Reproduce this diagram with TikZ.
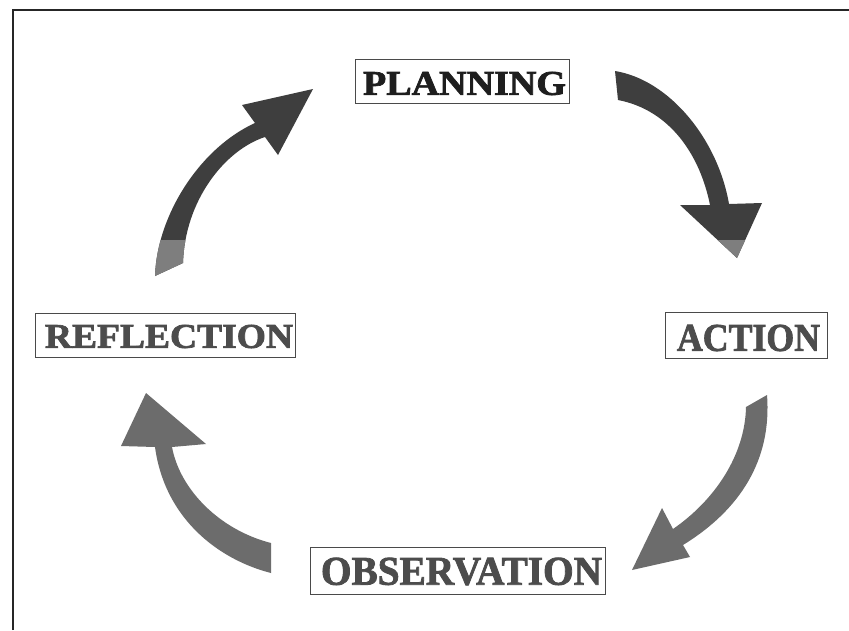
\documentclass[tikz,border=0pt]{standalone}
\usepackage{fontspec}
\usepackage{graphicx}
\setmainfont{Liberation Serif}[BoldFeatures={FakeBold=2}]
\definecolor{arrowdark}{HTML}{3E3E3E}
\definecolor{arrowmid}{HTML}{6C6C6C}
\definecolor{arrowlight}{HTML}{7E7E7E}
\definecolor{boxline}{HTML}{4A4A4A}
\definecolor{txtdark}{HTML}{1E1E1E}
\definecolor{txtmid}{HTML}{4C4C4C}

% arrow outlines (1 unit = 1 pixel, y grows downward)
\newcommand\planactpath{(615,71) .. controls (670,80) and (718,140) .. (729,204)
  -- (762,203) -- (737,258) -- (680,205) -- (710,205)
  .. controls (700,155) and (670,110) .. (618,100) -- cycle}
\newcommand\reflplanpath{(155,276) .. controls (157,215) and (200,148) .. (255,123)
  -- (242,105) -- (313,89) -- (278,155) -- (265,137)
  .. controls (225,150) and (185,200) .. (183,263) -- cycle}

\begin{document}
\begin{tikzpicture}[x=1pt,y=-1pt,
  frameline/.style={draw=black!85, line width=1.6pt},
  stagebox/.style={draw=boxline, line width=0.9pt, inner sep=0pt, fill=white},
  stagetext/.style={inner sep=0pt, font=\bfseries},
  darkarrow/.style={fill=arrowdark},
  midarrow/.style={fill=arrowmid},
  lightpart/.style={fill=arrowlight},
]
\useasboundingbox (0,0) rectangle (849,630);
\fill[white] (0,0) rectangle (849,630);

% frame (top and left edges)
\draw[frameline] (13,630) -- (13,10) -- (849,10);

% stage boxes
\node[stagebox, minimum width=214pt, minimum height=44pt] (plan) at (462,81) {};
\node[stagetext, text=txtdark] (plan-t) at (464.5,83.5) {\resizebox{203pt}{23pt}{PLANNING}};

\node[stagebox, minimum width=162pt, minimum height=46pt] (act) at (746,335) {};
\node[stagetext, text=txtmid] (act-t) at (748.5,338) {\resizebox{143pt}{26pt}{ACTION}};

\node[stagebox, minimum width=295pt, minimum height=47pt] (obs) at (457.5,570.5) {};
\node[stagetext, text=txtmid] (obs-t) at (461.5,571.5) {\resizebox{281pt}{27pt}{OBSERVATION}};

\node[stagebox, minimum width=260pt, minimum height=44pt] (refl) at (165,335) {};
\node[stagetext, text=txtmid] (refl-t) at (169,336.5) {\resizebox{248pt}{23pt}{REFLECTION}};

% planning -> action
\fill[darkarrow] \planactpath;
\begin{scope}
  \clip (0,240) rectangle (849,300);
  \fill[lightpart] \planactpath;
\end{scope}

% action -> observation
\fill[midarrow] (746,407) -- (767,395)
  .. controls (772,460) and (740,510) .. (683,545)
  -- (690,557) -- (632,570) -- (662,508) -- (673,529)
  .. controls (715,500) and (745,455) .. (746,407) -- cycle;

% observation -> reflection
\fill[midarrow] (271,543) -- (271,573)
  .. controls (220,560) and (165,520) .. (155,447)
  -- (121,446) -- (146,393) -- (206,444) -- (172,447)
  .. controls (180,490) and (220,530) .. (271,543) -- cycle;

% reflection -> planning
\fill[darkarrow] \reflplanpath;
\begin{scope}
  \clip (0,240) rectangle (849,300);
  \fill[lightpart] \reflplanpath;
\end{scope}
\end{tikzpicture}
\end{document}
